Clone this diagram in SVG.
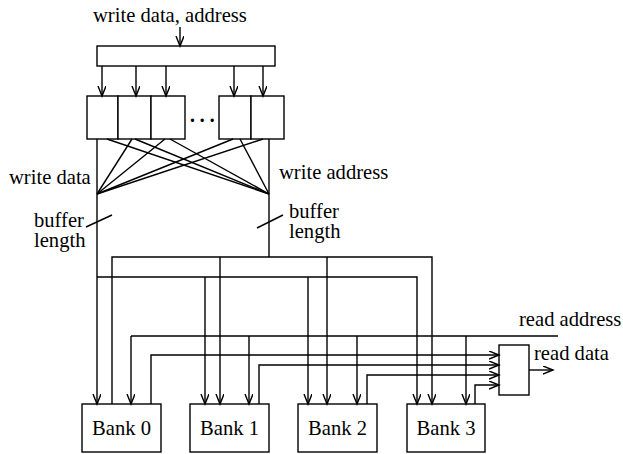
<svg xmlns="http://www.w3.org/2000/svg" width="623" height="454" viewBox="0 0 623 454">
<style>
text{font-family:"Liberation Serif","Times New Roman",serif;font-size:20.6px;fill:#000}
.c text{text-anchor:middle}
rect{fill:#fff;stroke:#000;stroke-width:1.4}
line,polyline,path{fill:none;stroke:#000;stroke-width:1.4}
.a{marker-end:url(#arr)}
</style>
<defs>
<marker id="arr" markerUnits="userSpaceOnUse" markerWidth="12" markerHeight="10" refX="10" refY="4" orient="auto">
<path d="M0,0 L10,4 L0,8" style="stroke:#000;stroke-width:1.4;fill:none"/>
</marker>
</defs>
<rect width="623" height="454" style="fill:#fff;stroke:none"/>

<g id="labels">
<text x="93" y="22">write data, address</text>
<text x="9" y="184">write data</text>
<text x="279" y="179">write address</text>
<text x="34" y="227">buffer</text>
<text x="34" y="247">length</text>
<text x="289" y="218">buffer</text>
<text x="289" y="238">length</text>
<text x="519" y="326">read address</text>
<text x="534" y="360">read data</text>
</g>

<g id="input-register"><rect x="97" y="46" width="178" height="20"/></g>
<g id="buffer0"><rect x="87" y="96" width="31" height="43"/></g>
<g id="buffer1"><rect x="118" y="96" width="33" height="43"/></g>
<g id="buffer2"><rect x="151" y="96" width="34" height="43"/></g>
<g id="ellipsis"><text x="189" y="127" style="font-weight:bold;letter-spacing:3px">···</text></g>
<g id="buffer3"><rect x="219" y="96" width="32" height="43"/></g>
<g id="buffer4"><rect x="251" y="96" width="33" height="43"/></g>

<g id="mux"><rect x="499" y="345" width="30" height="50"/></g>

<g id="bank0" class="c"><rect x="82" y="404" width="79" height="48"/><text x="121.5" y="435">Bank 0</text></g>
<g id="bank1" class="c"><rect x="190" y="404" width="79" height="48"/><text x="229.5" y="435">Bank 1</text></g>
<g id="bank2" class="c"><rect x="298" y="404" width="79" height="48"/><text x="337.5" y="435">Bank 2</text></g>
<g id="bank3" class="c"><rect x="407" y="404" width="78" height="48"/><text x="446" y="435">Bank 3</text></g>

<g id="connectors">
<line class="a" x1="180" y1="27" x2="180" y2="46"/>
<line class="a" x1="102" y1="66" x2="102" y2="96"/>
<line class="a" x1="136" y1="66" x2="136" y2="96"/>
<line class="a" x1="166" y1="66" x2="166" y2="96"/>
<line class="a" x1="234" y1="66" x2="234" y2="96"/>
<line class="a" x1="263" y1="66" x2="263" y2="96"/>

<line x1="107" y1="139" x2="269" y2="194"/>
<line x1="132" y1="139" x2="97" y2="194"/>
<line x1="135" y1="139" x2="269" y2="194"/>
<line x1="165" y1="139" x2="97" y2="194"/>
<line x1="170" y1="139" x2="269" y2="194"/>
<line x1="233" y1="139" x2="97" y2="194"/>
<line x1="240" y1="139" x2="269" y2="194"/>
<line x1="263" y1="139" x2="97" y2="194"/>

<line x1="86" y1="227" x2="112" y2="215"/>
<line x1="257" y1="228" x2="283" y2="215"/>

<line class="a" x1="97" y1="139" x2="97" y2="404"/>
<line x1="269" y1="139" x2="269" y2="257"/>

<polyline class="a" points="112,404 112,257 432,257 432,404"/>
<line class="a" x1="220" y1="257" x2="220" y2="404"/>
<line class="a" x1="327" y1="257" x2="327" y2="404"/>

<polyline class="a" points="97,277 417,277 417,404"/>
<line class="a" x1="205" y1="277" x2="205" y2="404"/>
<line class="a" x1="308" y1="277" x2="308" y2="404"/>

<line x1="131" y1="336" x2="558" y2="336"/>
<line class="a" x1="131" y1="336" x2="131" y2="404"/>
<line class="a" x1="249" y1="336" x2="249" y2="404"/>
<line class="a" x1="357" y1="336" x2="357" y2="404"/>
<line class="a" x1="466" y1="336" x2="466" y2="404"/>

<polyline class="a" points="151,404 151,355 499,355"/>
<polyline class="a" points="259,404 259,365 499,365"/>
<polyline class="a" points="367,404 367,375 499,375"/>
<polyline class="a" points="475,404 475,385 499,385"/>

<line class="a" x1="529" y1="370" x2="553" y2="370"/>
</g>
</svg>
